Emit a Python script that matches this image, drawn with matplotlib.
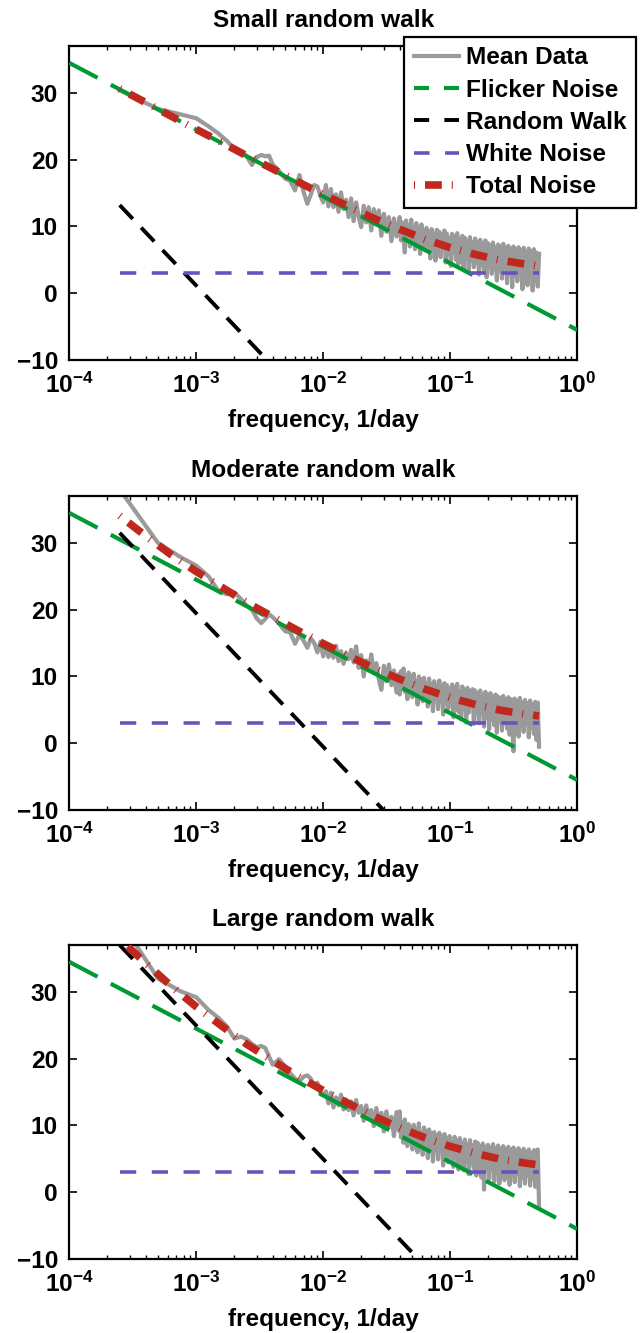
import numpy as np
import matplotlib
matplotlib.use("Agg")
import matplotlib.pyplot as plt
from matplotlib.lines import Line2D
from matplotlib.ticker import FixedLocator, FixedFormatter, LogLocator, NullFormatter

# ── fonts ─────────────────────────────────────────────────────────────────────
plt.rcParams["font.family"] = ["Liberation Sans", "DejaVu Sans"]
plt.rcParams["font.weight"] = "bold"
plt.rcParams["mathtext.fontset"] = "custom"
plt.rcParams["mathtext.rm"] = "Liberation Sans:bold"
plt.rcParams["mathtext.it"] = "Liberation Sans:bold"
plt.rcParams["mathtext.bf"] = "Liberation Sans:bold"

# ── data ──────────────────────────────────────────────────────────────────────
TITLES = ["Small random walk", "Moderate random walk", "Large random walk"]
XLABEL = "frequency, 1/day"
LEGEND_LABELS = ["Mean Data", "Flicker Noise", "Random Walk", "White Noise", "Total Noise"]

# model lines (power laws are straight in dB vs log f): end points
FLICKER_F = [1e-4, 1.0]
FLICKER_DB = [34.5, -5.5]
WHITE_F = [2.5e-4, 0.5]
WHITE_DB = [3.0, 3.0]
RW_F = [2.5e-4, 0.5]
RW_DB_SMALL = [13.2, -52.8]
RW_DB_MODERATE = [31.5, -34.5]
RW_DB_LARGE = [37.0, -29.0]

# total noise read at these frequencies
TOTAL_F = [2.5e-4, 4e-4, 6.3e-4, 1e-3, 1.6e-3, 2.5e-3, 4e-3, 6.3e-3, 1e-2,
           1.6e-2, 2.5e-2, 4e-2, 6.3e-2, 0.1, 0.16, 0.25, 0.4, 0.5]
TOTAL_SMALL = [30.61, 28.56, 26.55, 24.55, 22.56, 20.58, 18.63, 16.69, 14.80,
               12.96, 11.21, 9.58, 8.11, 6.83, 5.77, 4.94, 4.33, 4.09]
TOTAL_MODERATE = [34.07, 31.05, 28.28, 25.72, 23.33, 21.08, 18.94, 16.89, 14.92,
                  13.04, 11.26, 9.61, 8.12, 6.83, 5.77, 4.94, 4.33, 4.09]
TOTAL_LARGE = [37.9, 34.32, 30.94, 27.78, 24.85, 22.16, 19.68, 17.37, 15.23,
               13.23, 11.37, 9.67, 8.16, 6.86, 5.78, 4.94, 4.33, 4.09]

# mean data, low frequency bins (record of 4000 days)
LO_BINS = [1, 2, 3, 4, 5, 6, 7, 8, 9, 10, 11, 12, 13, 14, 15, 16,
           18, 20, 22, 24, 26, 28, 30, 32, 34, 36, 38, 40]
RECORD_DAYS = 4000.0
MEAN_LO_SMALL = [30.4, 27.6, 26.8, 26.2, 25.0, 23.9, 22.8, 21.6, 21.2, 20.5, 19.2, 20.4,
                 20.7, 20.5, 20.6, 19.3, 18.3, 17.2, 16.8, 15.4, 17.7, 15.2, 13.4, 14.8,
                 16.2, 16.0, 14.6, 13.6]
MEAN_LO_MODERATE = [38.0, 30.0, 27.9, 26.6, 25.0, 22.8, 22.3, 22.6, 21.6, 20.6, 20.0, 18.7,
                    18.0, 18.6, 19.3, 18.9, 17.9, 16.8, 16.6, 14.9, 16.2, 15.4, 14.3, 15.7,
                    15.0, 13.6, 15.2, 13.0]
MEAN_LO_LARGE = [40.8, 32.0, 30.1, 29.2, 27.3, 26.1, 24.8, 23.0, 23.3, 22.9, 22.2, 21.7,
                 21.9, 21.6, 20.3, 19.1, 19.9, 18.9, 17.8, 17.0, 16.6, 17.3, 17.5, 17.0,
                 15.8, 16.4, 14.9, 14.6]

# mean data, middle part (0.0105 .. 0.0395 1/day, log spaced)
MID_F_START, MID_F_END = 0.0105, 0.0395
MEAN_MID_SMALL = [16.2, 13.0, 15.6, 12.9, 14.8, 12.2, 15.1, 12.6, 14.0, 11.4,
                  14.2, 10.8, 13.6, 11.5, 9.9, 13.1, 10.6, 12.9, 9.4, 12.6,
                  10.3, 12.4, 8.6, 11.9, 9.2, 11.4, 7.8, 11.2, 8.5, 10.9]
MEAN_MID_MODERATE = [14.8, 12.9, 14.1, 12.8, 14.6, 12.3, 13.8, 11.9, 13.5, 12.6,
                     14.0, 12.1, 14.5, 11.3, 13.2, 10.0, 12.4, 10.9, 13.3, 10.5,
                     12.0, 9.6, 8.0, 11.6, 9.3, 11.8, 8.7, 10.9, 7.6, 10.4]
MEAN_MID_LARGE = [15.1, 13.3, 14.9, 12.7, 14.2, 13.0, 14.6, 12.4, 13.9, 12.3,
                  13.6, 11.5, 13.8, 11.9, 12.9, 10.7, 13.0, 11.2, 12.3, 9.9,
                  12.6, 10.4, 11.9, 9.1, 12.1, 9.7, 11.3, 8.4, 12.0, 9.2]

# mean data, dense high frequency part (0.04 .. 0.5 1/day, log spaced)
HI_F_START, HI_F_END = 0.04, 0.5
MEAN_HI_SMALL = [11.4, 7.9, 10.6, 8.8, 6.1, 10.9, 8.3, 10.2, 7.0, 11.0,
                 8.1, 9.9, 6.6, 10.5, 7.8, 9.6, 5.9, 10.3, 7.2, 9.4,
                 6.4, 9.8, 7.5, 9.1, 5.2, 9.6, 6.9, 8.8, 4.9, 9.5,
                 6.6, 9.2, 5.4, 8.7, 6.8, 9.4, 4.6, 8.9, 5.9, 8.3,
                 4.1, 8.9, 6.2, 8.5, 5.0, 9.0, 4.4, 8.1, 5.6, 8.6,
                 3.7, 8.3, 5.2, 7.9, 3.2, 8.4, 4.9, 7.6, 3.9, 8.2,
                 4.6, 7.7, 2.8, 8.0, 4.2, 7.4, 3.3, 7.9, 2.4, 7.5,
                 4.0, 7.2, 2.9, 7.6, 3.6, 6.9, 1.9, 7.3, 3.4, 7.0,
                 2.2, 7.4, 3.8, 6.8, 1.5, 7.1, 2.9, 6.6, 0.9, 7.0,
                 2.6, 6.5, 1.8, 6.9, 3.2, 6.4, 0.6, 6.8, 2.3, 6.2,
                 1.2, 6.7, 2.7, 6.3, 0.4, 6.6, 1.9, 6.1, 1.0, 5.9]
MEAN_HI_MODERATE = [7.3, 10.8, 8.4, 11.2, 7.7, 9.9, 6.6, 10.6, 8.9, 10.1,
                    6.9, 10.4, 7.6, 9.3, 5.8, 10.0, 7.9, 9.6, 6.3, 9.8,
                    7.1, 9.0, 5.5, 9.7, 6.6, 8.9, 4.8, 9.3, 7.0, 8.6,
                    5.1, 9.4, 6.2, 8.4, 4.3, 9.0, 6.0, 8.7, 5.2, 8.2,
                    6.3, 8.8, 3.9, 8.4, 5.5, 8.9, 4.7, 7.8, 3.6, 8.5,
                    5.4, 8.0, 3.1, 8.3, 4.6, 7.7, 5.6, 8.1, 2.9, 7.9,
                    4.4, 7.5, 3.0, 7.9, 4.8, 7.2, 2.5, 7.7, 3.9, 7.3,
                    2.1, 7.5, 3.6, 6.9, 2.7, 7.3, 1.6, 7.0, 3.3, 6.8,
                    1.9, 7.1, 3.0, 6.5, 2.2, 6.9, 1.3, 6.6, 2.8, -1.2,
                    6.7, 2.1, 6.3, 1.0, 6.8, 2.6, 6.1, 1.7, 6.5, 2.9,
                    6.0, 0.9, 6.4, 2.3, 5.8, 1.4, 6.2, 0.5, 6.1, -0.5]
MEAN_HI_LARGE = [12.1, 8.2, 10.5, 7.4, 10.9, 8.6, 6.9, 10.2, 8.0, 9.8,
                 6.4, 10.1, 7.7, 9.5, 6.0, 10.3, 7.4, 8.9, 5.6, 9.7,
                 7.8, 9.2, 5.1, 9.4, 6.7, 8.8, 4.6, 9.0, 6.4, 8.5,
                 4.9, 8.9, 6.6, 8.2, 4.0, 8.7, 5.8, 7.9, 4.5, 8.4,
                 6.0, 7.5, 3.8, 8.3, 5.3, 7.7, 3.4, 8.1, 5.0, 7.4,
                 3.3, 7.9, 4.8, 7.2, 2.7, 7.8, 4.4, 7.0, 3.6, 7.6,
                 2.5, 7.4, 4.1, 6.9, 2.2, 7.3, 0.4, 6.8, 3.5, 7.1,
                 2.0, 6.7, 3.4, 7.2, 1.6, 6.6, 2.9, 7.0, 1.3, 6.5,
                 3.0, 6.9, 1.8, 6.4, 2.6, 6.8, 1.1, 6.3, 2.4, 6.7,
                 1.5, 6.2, 2.8, 6.6, 0.9, 6.1, 2.2, 6.5, 1.3, 6.0,
                 2.5, 6.4, 1.0, 5.9, 2.0, 6.3, 0.8, 6.2, 6.4, -2.0]

PANELS = [
    (TITLES[0], MEAN_LO_SMALL, MEAN_MID_SMALL, MEAN_HI_SMALL, RW_DB_SMALL, TOTAL_SMALL),
    (TITLES[1], MEAN_LO_MODERATE, MEAN_MID_MODERATE, MEAN_HI_MODERATE, RW_DB_MODERATE,
     TOTAL_MODERATE),
    (TITLES[2], MEAN_LO_LARGE, MEAN_MID_LARGE, MEAN_HI_LARGE, RW_DB_LARGE, TOTAL_LARGE),
]

# ── styles ────────────────────────────────────────────────────────────────────
C_MEAN = "#9a9a9a"
C_FLICKER = "#009933"
C_RW = "#000000"
C_WHITE = "#6a52bd"
C_TOTAL = "#c0281e"

LW_MEAN, LW_FLICKER, LW_RW, LW_WHITE, LW_TOTAL = 3.0, 3.0, 2.8, 2.6, 5.5
LS_FLICKER = (0, (7.7, 3.6))
LS_RW = (0, (4.9, 3.1))
LS_WHITE = (0, (4.5, 4.3))
LS_TOTAL = (3.5, (2.2, 1.3, 0.14, 1.3))

FS = 17.6
AX_LEFT, AX_WIDTH, AX_HEIGHT = 0.108, 0.794, 0.2355
AX_BOTTOMS = [0.7299, 0.3923, 0.0555]


def draw_panel(ax, title, mean_lo, mean_mid, mean_hi, rw_db, total_db):
    lo_f = np.array(LO_BINS) / RECORD_DAYS
    mid_f = np.geomspace(MID_F_START, MID_F_END, len(mean_mid))
    hi_f = np.geomspace(HI_F_START, HI_F_END, len(mean_hi))
    mean_f = np.concatenate([lo_f, mid_f, hi_f])
    mean_db = np.concatenate([mean_lo, mean_mid, mean_hi])

    ax.semilogx(mean_f, mean_db, color=C_MEAN, lw=LW_MEAN, zorder=2)
    ax.semilogx(FLICKER_F, FLICKER_DB, color=C_FLICKER, lw=LW_FLICKER, ls=LS_FLICKER, zorder=3)
    ax.semilogx(RW_F, rw_db, color=C_RW, lw=LW_RW, ls=LS_RW, zorder=3)
    ax.semilogx(WHITE_F, WHITE_DB, color=C_WHITE, lw=LW_WHITE, ls=LS_WHITE, zorder=3)
    ax.semilogx(TOTAL_F, total_db, color=C_TOTAL, lw=LW_TOTAL, ls=LS_TOTAL, zorder=4)

    ax.set_xlim(1e-4, 1.0)
    ax.set_ylim(-10, 37)
    ax.set_title(title, fontsize=FS, fontweight="bold", pad=14)
    ax.set_xlabel(XLABEL, fontsize=FS, fontweight="bold", labelpad=8)

    ax.xaxis.set_major_locator(FixedLocator([1e-4, 1e-3, 1e-2, 1e-1, 1.0]))
    ax.xaxis.set_major_formatter(FixedFormatter([r"$10^{-4}$", r"$10^{-3}$", r"$10^{-2}$",
                                                 r"$10^{-1}$", r"$10^{0}$"]))
    ax.xaxis.set_minor_locator(LogLocator(base=10, subs=np.arange(2, 10), numticks=20))
    ax.xaxis.set_minor_formatter(NullFormatter())
    ax.set_yticks([-10, 0, 10, 20, 30])

    ax.tick_params(which="both", direction="in", top=True, right=True, labelsize=FS)
    ax.tick_params(which="major", length=6, width=1.2)
    ax.tick_params(which="minor", length=3, width=1.0)
    ax.tick_params(axis="y", pad=8)
    ax.tick_params(axis="x", pad=9)
    for sp in ax.spines.values():
        sp.set_linewidth(1.6)


fig = plt.figure(figsize=(6.4, 13.33), dpi=100)
axes = []
for bottom, panel in zip(AX_BOTTOMS, PANELS):
    ax = fig.add_axes([AX_LEFT, bottom, AX_WIDTH, AX_HEIGHT])
    draw_panel(ax, *panel)
    axes.append(ax)

# legend proxies (MATLAB draws shorter dashes in the legend)
handles = [
    Line2D([], [], color=C_MEAN, lw=LW_MEAN),
    Line2D([], [], color=C_FLICKER, lw=LW_FLICKER, ls=(0, (3.6, 3.6))),
    Line2D([], [], color=C_RW, lw=LW_RW, ls=(0, (3.9, 3.9))),
    Line2D([], [], color=C_WHITE, lw=LW_WHITE, ls=(0, (4.3, 4.3))),
    Line2D([], [], color=C_TOTAL, lw=LW_TOTAL, ls=(3.5, (2.2, 1.3, 0.14, 1.3))),
]
leg = axes[0].legend(handles, LEGEND_LABELS, loc="upper right",
                     bbox_to_anchor=(636 / 640, 1 - 37 / 1333), bbox_transform=fig.transFigure,
                     fontsize=FS, frameon=True, fancybox=False, framealpha=1.0,
                     edgecolor="black", borderpad=0.38, labelspacing=0.38,
                     handlelength=1.85, handletextpad=0.3, borderaxespad=0.0)
leg.get_frame().set_linewidth(1.6)
leg.set_zorder(10)

fig.savefig("out.png", dpi=100)
